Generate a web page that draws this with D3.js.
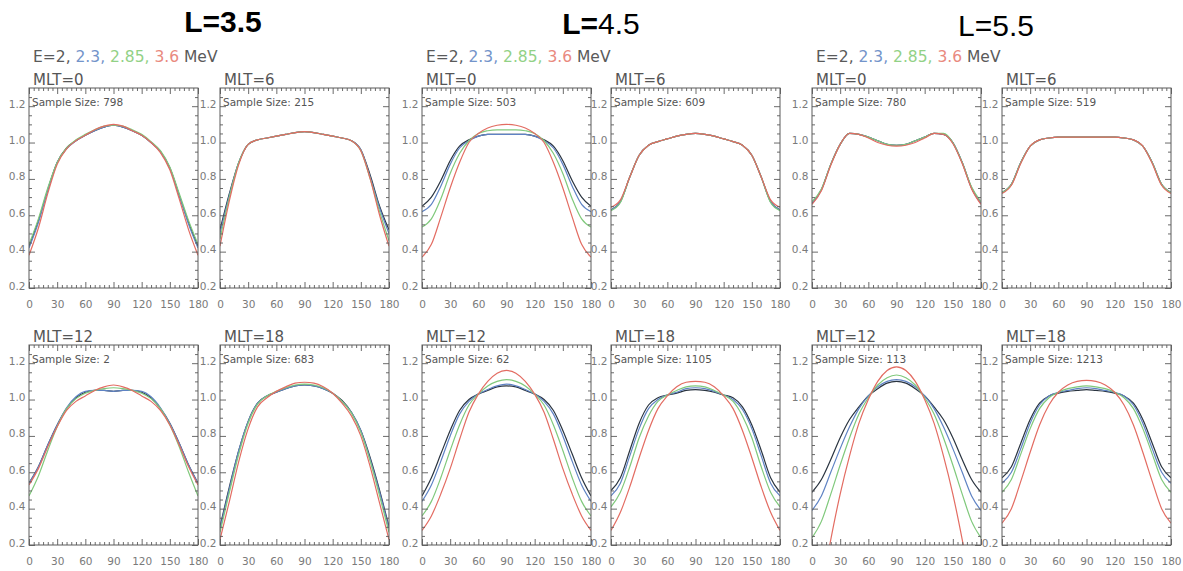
<!DOCTYPE html>
<html>
<head>
<meta charset="utf-8">
<script src="https://cdn.jsdelivr.net/npm/d3@7/dist/d3.min.js"></script>
<style>
  html, body { margin: 0; padding: 0; background: #fff; }
  svg { display: block; }
</style>
</head>
<body>
<script>
// ---- data -------------------------------------------------------------
const pitchAngles = [0, 10, 20, 30, 40, 50, 60, 70, 80, 90, 100, 110, 120, 130, 140, 150, 160, 170, 180];
const energies = ["2", "2.3", "2.85", "3.6"];
const shells = ["3.5", "4.5", "5.5"];
const mltSectors = ["0", "6", "12", "18"];
const xTicks = [0, 30, 60, 90, 120, 150, 180];
const yTicks = [0.2, 0.4, 0.6, 0.8, 1.0, 1.2];

const sampleSizesL35 = [798, 215, 2, 683];
const sampleSizesL45 = [503, 609, 62, 1105];
const sampleSizesL55 = [780, 519, 113, 1213];

// normalised flux vs pitch angle; series order: E = 2, 2.3, 2.85, 3.6 MeV
const L35_MLT0 = [
  [0.43,0.57,0.74,0.89,0.97,1.01,1.04,1.065,1.085,1.095,1.085,1.065,1.04,1.0,0.95,0.86,0.71,0.56,0.43],
  [0.42,0.56,0.74,0.89,0.965,1.01,1.04,1.065,1.085,1.095,1.085,1.065,1.04,1.0,0.95,0.86,0.71,0.55,0.42],
  [0.44,0.58,0.75,0.89,0.97,1.015,1.045,1.07,1.09,1.095,1.09,1.07,1.045,1.005,0.955,0.865,0.72,0.57,0.44],
  [0.38,0.53,0.72,0.88,0.965,1.01,1.04,1.07,1.09,1.1,1.09,1.065,1.04,1.0,0.945,0.85,0.69,0.52,0.38]
];
const L35_MLT6 = [
  [0.52,0.72,0.89,0.99,1.015,1.025,1.035,1.045,1.055,1.06,1.055,1.045,1.035,1.025,1.01,0.96,0.82,0.65,0.52],
  [0.50,0.71,0.89,0.99,1.015,1.025,1.035,1.045,1.055,1.06,1.055,1.045,1.035,1.025,1.01,0.96,0.81,0.64,0.50],
  [0.47,0.70,0.89,0.99,1.015,1.025,1.035,1.045,1.055,1.06,1.055,1.045,1.035,1.025,1.01,0.955,0.80,0.62,0.46],
  [0.43,0.68,0.88,0.99,1.015,1.025,1.035,1.045,1.055,1.06,1.055,1.045,1.035,1.025,1.01,0.955,0.80,0.60,0.43]
];
const L35_MLT12 = [
  [0.54,0.63,0.75,0.86,0.95,1.01,1.04,1.05,1.05,1.045,1.05,1.05,1.04,1.01,0.95,0.87,0.76,0.64,0.54],
  [0.54,0.63,0.75,0.86,0.955,1.015,1.045,1.05,1.05,1.045,1.05,1.05,1.045,1.015,0.955,0.87,0.76,0.64,0.54],
  [0.47,0.58,0.72,0.85,0.95,1.005,1.035,1.05,1.06,1.065,1.06,1.05,1.035,1.005,0.95,0.86,0.74,0.60,0.47],
  [0.53,0.62,0.74,0.85,0.94,0.99,1.02,1.05,1.07,1.08,1.07,1.05,1.02,0.99,0.94,0.86,0.75,0.63,0.53]
];
const L35_MLT18 = [
  [0.30,0.52,0.72,0.88,0.98,1.02,1.04,1.06,1.075,1.08,1.075,1.06,1.035,0.995,0.93,0.83,0.68,0.50,0.30],
  [0.29,0.51,0.72,0.88,0.98,1.02,1.04,1.06,1.075,1.08,1.075,1.06,1.035,0.99,0.93,0.83,0.67,0.49,0.29],
  [0.27,0.49,0.70,0.87,0.975,1.02,1.045,1.065,1.08,1.085,1.08,1.065,1.035,0.99,0.925,0.82,0.66,0.47,0.27],
  [0.23,0.44,0.66,0.84,0.96,1.01,1.045,1.07,1.09,1.095,1.09,1.07,1.035,0.98,0.91,0.80,0.63,0.43,0.23]
];
const L45_MLT0 = [
  [0.65,0.70,0.79,0.90,0.98,1.015,1.035,1.045,1.045,1.045,1.045,1.045,1.035,1.015,0.98,0.90,0.79,0.70,0.65],
  [0.62,0.66,0.76,0.88,0.97,1.01,1.035,1.045,1.045,1.045,1.045,1.045,1.035,1.01,0.97,0.88,0.76,0.66,0.62],
  [0.535,0.58,0.69,0.83,0.94,1.01,1.05,1.065,1.07,1.07,1.07,1.065,1.05,1.01,0.94,0.83,0.69,0.58,0.535],
  [0.37,0.44,0.59,0.75,0.89,1.0,1.05,1.08,1.095,1.1,1.095,1.08,1.05,1.0,0.89,0.75,0.59,0.44,0.37]
];
const L45_MLT6 = [
  [0.63,0.675,0.81,0.93,0.985,1.005,1.02,1.035,1.045,1.05,1.045,1.035,1.02,1.005,0.985,0.93,0.81,0.675,0.63],
  [0.63,0.675,0.81,0.93,0.985,1.005,1.02,1.035,1.045,1.05,1.045,1.035,1.02,1.005,0.985,0.93,0.81,0.675,0.63],
  [0.625,0.67,0.81,0.93,0.985,1.005,1.02,1.035,1.045,1.05,1.045,1.035,1.02,1.005,0.985,0.93,0.81,0.67,0.625],
  [0.645,0.685,0.81,0.93,0.985,1.005,1.02,1.035,1.045,1.05,1.045,1.035,1.02,1.005,0.985,0.93,0.81,0.685,0.645]
];
const L45_MLT12 = [
  [0.47,0.57,0.70,0.83,0.94,1.0,1.03,1.05,1.07,1.075,1.07,1.05,1.03,1.0,0.94,0.83,0.70,0.57,0.47],
  [0.44,0.53,0.66,0.80,0.92,0.99,1.03,1.055,1.075,1.085,1.075,1.055,1.03,0.99,0.92,0.80,0.66,0.53,0.44],
  [0.36,0.44,0.57,0.72,0.86,0.97,1.03,1.075,1.10,1.11,1.10,1.075,1.03,0.97,0.86,0.72,0.57,0.44,0.36],
  [0.28,0.36,0.48,0.62,0.78,0.93,1.03,1.10,1.145,1.16,1.145,1.10,1.03,0.93,0.78,0.62,0.48,0.36,0.28]
];
const L45_MLT18 = [
  [0.50,0.57,0.72,0.87,0.97,1.01,1.025,1.035,1.05,1.055,1.05,1.04,1.025,1.01,0.96,0.86,0.72,0.57,0.49],
  [0.47,0.54,0.69,0.84,0.95,1.0,1.025,1.04,1.06,1.065,1.06,1.045,1.025,1.0,0.945,0.84,0.69,0.54,0.47],
  [0.41,0.49,0.63,0.79,0.91,0.99,1.025,1.05,1.07,1.075,1.07,1.05,1.025,0.99,0.91,0.79,0.63,0.49,0.41],
  [0.28,0.38,0.52,0.68,0.83,0.95,1.02,1.07,1.095,1.10,1.095,1.07,1.02,0.95,0.83,0.68,0.52,0.38,0.28]
];
const L55_MLT0 = [
  [0.665,0.74,0.88,0.99,1.05,1.045,1.03,1.01,0.99,0.985,0.99,1.01,1.03,1.05,1.045,1.0,0.89,0.75,0.665],
  [0.665,0.74,0.88,0.99,1.05,1.045,1.03,1.01,0.99,0.985,0.99,1.01,1.03,1.05,1.045,1.0,0.89,0.75,0.665],
  [0.675,0.745,0.88,0.99,1.05,1.045,1.03,1.01,0.99,0.985,0.99,1.01,1.03,1.05,1.05,1.0,0.89,0.755,0.675],
  [0.66,0.735,0.875,0.99,1.05,1.045,1.025,1.0,0.985,0.98,0.985,1.0,1.025,1.05,1.045,0.995,0.885,0.745,0.66]
];
const L55_MLT6 = [
  [0.725,0.77,0.89,0.98,1.015,1.025,1.03,1.03,1.03,1.03,1.03,1.03,1.03,1.025,1.015,0.98,0.89,0.77,0.725],
  [0.725,0.77,0.89,0.98,1.015,1.025,1.03,1.03,1.03,1.03,1.03,1.03,1.03,1.025,1.015,0.98,0.89,0.77,0.725],
  [0.725,0.77,0.89,0.98,1.015,1.025,1.03,1.03,1.03,1.03,1.03,1.03,1.03,1.025,1.015,0.98,0.89,0.77,0.725],
  [0.72,0.765,0.885,0.98,1.015,1.025,1.03,1.03,1.03,1.03,1.03,1.03,1.03,1.025,1.015,0.98,0.885,0.765,0.72]
];
const L55_MLT12 = [
  [0.49,0.56,0.67,0.79,0.89,0.96,1.02,1.06,1.09,1.10,1.09,1.06,1.02,0.96,0.89,0.79,0.67,0.56,0.49],
  [0.39,0.47,0.60,0.73,0.85,0.95,1.02,1.07,1.10,1.11,1.10,1.07,1.02,0.95,0.85,0.73,0.60,0.47,0.39],
  [0.24,0.33,0.48,0.64,0.79,0.92,1.01,1.08,1.12,1.135,1.12,1.08,1.01,0.92,0.79,0.64,0.48,0.33,0.24],
  [-0.30,-0.05,0.23,0.48,0.69,0.87,1.0,1.10,1.16,1.18,1.16,1.10,1.0,0.87,0.69,0.48,0.23,-0.05,-0.30]
];
const L55_MLT18 = [
  [0.57,0.63,0.76,0.89,0.98,1.02,1.035,1.045,1.05,1.055,1.05,1.045,1.035,1.02,0.98,0.89,0.76,0.63,0.57],
  [0.54,0.60,0.73,0.87,0.97,1.02,1.04,1.05,1.06,1.065,1.06,1.05,1.04,1.02,0.97,0.87,0.73,0.60,0.54],
  [0.49,0.56,0.70,0.84,0.95,1.01,1.04,1.06,1.07,1.075,1.07,1.06,1.04,1.01,0.95,0.84,0.70,0.56,0.49],
  [0.32,0.40,0.55,0.71,0.86,0.97,1.04,1.08,1.10,1.105,1.10,1.08,1.04,0.97,0.86,0.71,0.55,0.40,0.32]
];

// ---- layout & style ---------------------------------------------------
const W = 1183, H = 571;
const panelW = 169;
const columnLefts = [29, 220, 422, 611, 812, 1002];
const rowTops = [88, 345];
const panelH = 200;
const yDomain = [0.2, 1.3];
const seriesColors = ["#2a3440", "#5f83c4", "#80c97c", "#e36c62"];
const legendColors = ["#5a5a5a", "#7394ca", "#92d186", "#e98a7f"];
const titleCenters = [223, 601, 996];
const titleBaselines = [32, 34, 36];
const titleWeights = [["bold", "bold"], ["bold", "normal"], ["normal", "normal"]];
const frameColor = "#5a5a5a";
const labelColor = "#7a7a7a";
const textFont = "'DejaVu Sans', sans-serif";

const groups = [
  { panels: [L35_MLT0, L35_MLT6, L35_MLT12, L35_MLT18], sizes: sampleSizesL35 },
  { panels: [L45_MLT0, L45_MLT6, L45_MLT12, L45_MLT18], sizes: sampleSizesL45 },
  { panels: [L55_MLT0, L55_MLT6, L55_MLT12, L55_MLT18], sizes: sampleSizesL55 }
];

const svg = d3.select("body").append("svg")
  .attr("width", W).attr("height", H)
  .attr("viewBox", `0 0 ${W} ${H}`);

svg.append("rect").attr("width", W).attr("height", H).attr("fill", "#fff");

const defs = svg.append("defs");

const xMinor = d3.range(0, 181, 5).filter(v => v % 30 !== 0);
const yMinor = d3.range(0.25, 1.3, 0.05).map(v => +v.toFixed(2)).filter(v => Math.abs(v * 5 - Math.round(v * 5)) > 1e-6);

groups.forEach((group, gi) => {
  // group title: L = shell
  const title = svg.append("text")
    .attr("x", titleCenters[gi]).attr("y", titleBaselines[gi])
    .attr("text-anchor", "middle")
    .attr("font-family", "'Liberation Sans', Arial, sans-serif")
    .attr("font-size", 30).attr("fill", "#000");
  title.append("tspan").attr("font-weight", titleWeights[gi][0]).text("L=");
  title.append("tspan").attr("font-weight", titleWeights[gi][1]).text(shells[gi]);

  // energy legend line
  const legend = svg.append("text")
    .attr("x", columnLefts[gi * 2] + 4).attr("y", 62)
    .attr("font-family", textFont).attr("font-size", 15.5);
  legend.append("tspan").attr("fill", legendColors[0]).text("E=" + energies[0] + ", ");
  legend.append("tspan").attr("fill", legendColors[1]).text(energies[1] + ", ");
  legend.append("tspan").attr("fill", legendColors[2]).text(energies[2] + ", ");
  legend.append("tspan").attr("fill", legendColors[3]).text(energies[3]);
  legend.append("tspan").attr("fill", legendColors[0]).text(" MeV");

  group.panels.forEach((series, pi) => {
    const left = columnLefts[gi * 2 + (pi % 2)];
    const top = rowTops[Math.floor(pi / 2)];
    const x = d3.scaleLinear().domain([0, 180]).range([left, left + panelW]);
    const y = d3.scaleLinear().domain(yDomain).range([top + panelH, top]);
    const g = svg.append("g");

    // MLT label above the panel
    g.append("text")
      .attr("x", left + 4).attr("y", top - 3)
      .attr("font-family", textFont).attr("font-size", 15)
      .attr("fill", "#555")
      .text("MLT=" + mltSectors[pi]);

    // curves, clipped to the plotting box
    const clipId = `clip-${gi}-${pi}`;
    defs.append("clipPath").attr("id", clipId)
      .append("rect").attr("x", left).attr("y", top)
      .attr("width", panelW).attr("height", panelH);

    const line = d3.line()
      .x((d, i) => x(pitchAngles[i]))
      .y(d => y(d))
      .curve(d3.curveMonotoneX);

    g.append("g").attr("clip-path", `url(#${clipId})`)
      .selectAll("path").data(series).join("path")
      .attr("d", line)
      .attr("fill", "none")
      .attr("stroke", (d, i) => seriesColors[i])
      .attr("stroke-width", 1.2)
      .attr("stroke-linejoin", "round");

    // axes: major ticks (inward) with labels on bottom/left
    g.append("g").attr("transform", `translate(0,${top + panelH})`)
      .call(d3.axisBottom(x).tickValues(xTicks).tickSize(-6).tickSizeOuter(0).tickPadding(12.5).tickFormat(d3.format("d")));
    const leftAxis = g.append("g").attr("transform", `translate(${left},0)`)
      .call(d3.axisLeft(y).tickValues(yTicks).tickSize(-6).tickSizeOuter(0).tickPadding(3.5).tickFormat(d3.format(".1f")));
    g.append("g").attr("transform", `translate(0,${top})`)
      .call(d3.axisTop(x).tickValues(xTicks).tickSize(-6).tickSizeOuter(0).tickFormat(""));
    g.append("g").attr("transform", `translate(${left + panelW},0)`)
      .call(d3.axisRight(y).tickValues(yTicks).tickSize(-6).tickSizeOuter(0).tickFormat(""));

    // minor ticks
    g.append("g").attr("transform", `translate(0,${top + panelH})`)
      .call(d3.axisBottom(x).tickValues(xMinor).tickSize(-3).tickSizeOuter(0).tickFormat(""));
    g.append("g").attr("transform", `translate(0,${top})`)
      .call(d3.axisTop(x).tickValues(xMinor).tickSize(-3).tickSizeOuter(0).tickFormat(""));
    g.append("g").attr("transform", `translate(${left},0)`)
      .call(d3.axisLeft(y).tickValues(yMinor).tickSize(-3).tickSizeOuter(0).tickFormat(""));
    g.append("g").attr("transform", `translate(${left + panelW},0)`)
      .call(d3.axisRight(y).tickValues(yMinor).tickSize(-3).tickSizeOuter(0).tickFormat(""));

    g.selectAll(".domain").remove();
    g.selectAll(".tick line").attr("stroke", frameColor).attr("stroke-width", 0.9);
    g.selectAll(".tick text")
      .attr("font-family", textFont).attr("font-size", 10.5)
      .attr("fill", labelColor);
    leftAxis.selectAll(".tick text").attr("dy", "0.1em");

    // frame
    g.append("rect")
      .attr("x", left).attr("y", top)
      .attr("width", panelW).attr("height", panelH)
      .attr("fill", "none").attr("stroke", frameColor).attr("stroke-width", 1);

    // sample size annotation
    g.append("text")
      .attr("x", left + 3).attr("y", top + 18)
      .attr("font-family", textFont).attr("font-size", 10.5)
      .attr("fill", "#555")
      .text("Sample Size: " + group.sizes[pi]);
  });
});
</script>
</body>
</html>
